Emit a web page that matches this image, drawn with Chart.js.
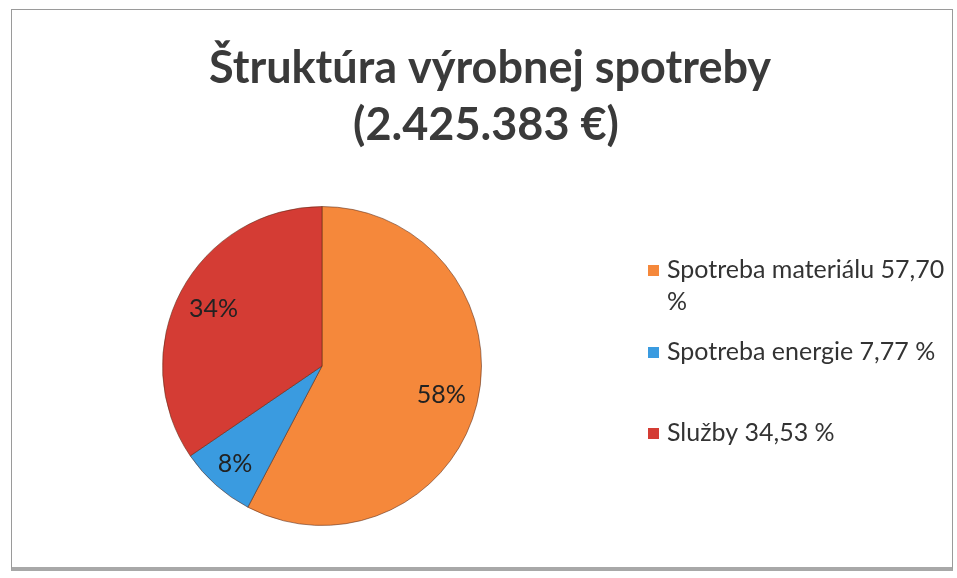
<!DOCTYPE html>
<html lang="sk">
<head>
  <meta charset="UTF-8">
  <title>Štruktúra výrobnej spotreby</title>
  <script src="https://cdn.jsdelivr.net/npm/chart.js"></script>
  <style>
    html, body { margin: 0; padding: 0; background: #fff; }
    .wrap { position: relative; width: 957px; height: 578px; }
    .frame {
      position: absolute; left: 11px; top: 9px; width: 940px; height: 557px;
      border: 1px solid #9a9a9a; border-bottom: 4px solid #a8a8a8;
      pointer-events: none;
    }
  </style>
</head>
<body>
  <div class="wrap">
    <canvas id="pie" width="957" height="578"></canvas>
    <div class="frame"></div>
  </div>

  <script>
    // údaje z grafu
    const titleLines = ['Štruktúra výrobnej spotreby', '(2.425.383 €)'];
    const categories = ['Spotreba materiálu', 'Spotreba energie', 'Služby'];
    const shares = [57.70, 7.77, 34.53];
    const pctLabels = ['58%', '8%', '34%'];
    const legendTexts = [['Spotreba materiálu 57,70', '%'], ['Spotreba energie 7,77 %'], ['Služby 34,53 %']];
    const colors = ['#f5883b', '#3a9be0', '#d43c34'];

    // nadpis, legenda a percentá nakreslené priamo na plátno
    const decor = {
      id: 'decor',
      afterDraw(chart) {
        const ctx = chart.ctx;
        ctx.save();
        ctx.fillStyle = '#3a3a3a';
        ctx.textAlign = 'center';
        ctx.textBaseline = 'alphabetic';
        ctx.font = 'bold 45px Lato, "Open Sans", sans-serif';
        ctx.fillText(titleLines[0], 490, 83);
        ctx.fillText(titleLines[1], 486, 140);

        // percentá v kruhu
        const meta = chart.getDatasetMeta(0);
        ctx.font = '25px Lato, "Open Sans", sans-serif';
        ctx.fillStyle = '#222';
        ctx.textBaseline = 'middle';
        meta.data.forEach((arc, i) => {
          const p = arc.getProps(['x', 'y', 'startAngle', 'endAngle', 'outerRadius']);
          const mid = (p.startAngle + p.endAngle) / 2;
          const r = p.outerRadius * (i === 1 ? 0.82 : 0.77);
          ctx.fillText(pctLabels[i], p.x + Math.cos(mid) * r, p.y + Math.sin(mid) * r);
        });

        // legenda
        const rows = [270, 352, 433];
        ctx.textAlign = 'left';
        ctx.font = '25px Lato, "Open Sans", sans-serif';
        legendTexts.forEach((lines, i) => {
          const y = rows[i];
          ctx.fillStyle = colors[i];
          ctx.fillRect(648, y - 5, 11, 11);
          ctx.fillStyle = '#333';
          lines.forEach((t, j) => ctx.fillText(t, 667, y + j * 32));
        });
        ctx.restore();
      }
    };

    new Chart(document.getElementById('pie'), {
      type: 'pie',
      data: {
        labels: categories,
        datasets: [{
          data: shares,
          backgroundColor: colors,
          borderColor: 'rgba(90,40,20,0.55)',
          borderWidth: 1
        }]
      },
      options: {
        responsive: false,
        animation: false,
        layout: { padding: { left: 162, right: 475, top: 206, bottom: 52 } },
        plugins: {
          legend: { display: false },
          tooltip: { enabled: false },
          title: { display: false }
        }
      },
      plugins: [decor]
    });
  </script>
</body>
</html>
